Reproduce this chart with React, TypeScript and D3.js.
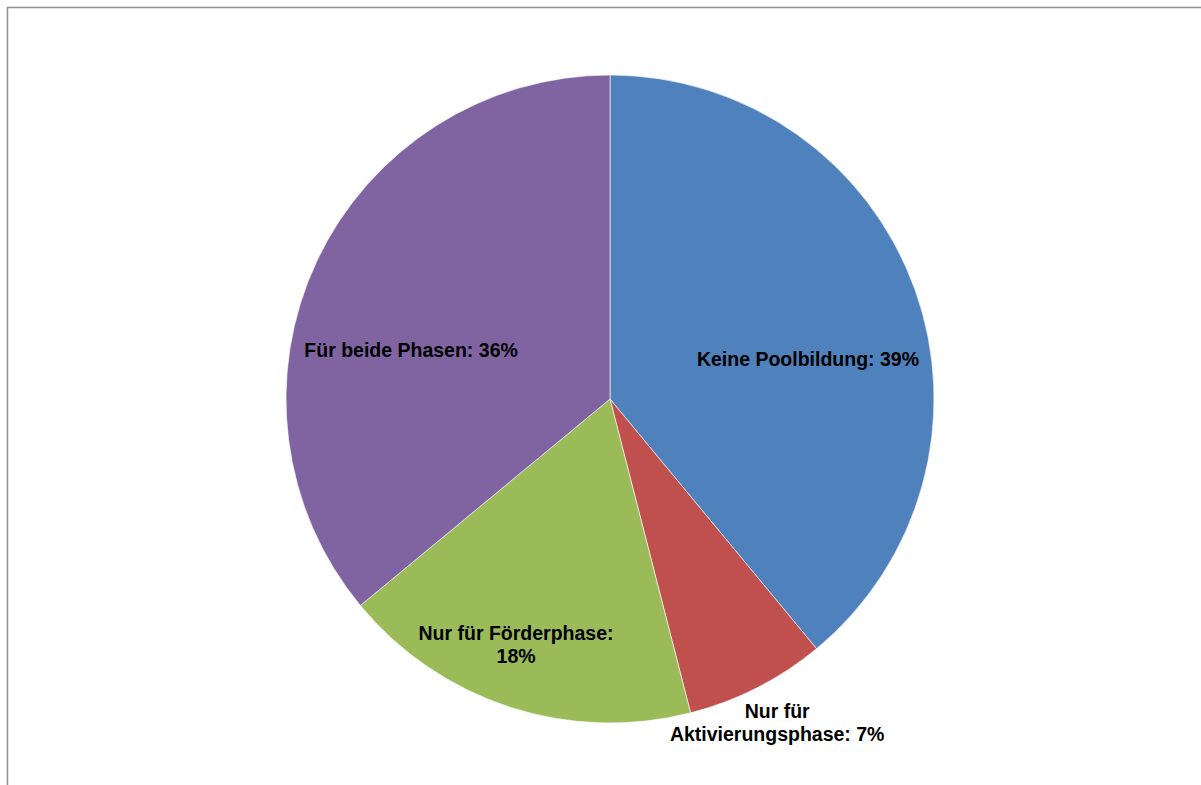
import React from "react";
import * as d3 from "d3";

const categories = ["Keine Poolbildung", "Nur für Aktivierungsphase", "Nur für Förderphase", "Für beide Phasen"];
const values = [39, 7, 18, 36];
const colors = ["#4F81BD", "#C0504D", "#9BBB59", "#8064A2"];
const labelLines = [
  ["Keine Poolbildung: 39%"],
  ["Nur für", "Aktivierungsphase: 7%"],
  ["Nur für Förderphase:", "18%"],
  ["Für beide Phasen: 36%"],
];

const W = 1201;
const H = 785;
const cx = 610;
const cy = 399;
const R = 324;

export default function App() {
  const pie = d3.pie<number>().sort(null).value((d) => d)(values);
  const arc = d3.arc<d3.PieArcDatum<number>>().innerRadius(0).outerRadius(R);
  // label block centres relative to the pie centre, as fractions of radius
  const labelOffsets: [number, number][] = [
    [0.611, -0.123],
    [0.516, 1.0],
    [-0.29, 0.759],
    [-0.614, -0.151],
  ];
  const lineH = 23;
  return (
    <svg
      width={W}
      height={H}
      style={{ position: "absolute", left: 0, top: 0, display: "block", background: "#fff" }}
      fontFamily="'Liberation Sans', Arial, sans-serif"
    >
      <rect x={0} y={0} width={W} height={H} fill="#fff" />
      <path d={`M7.5,${H} L7.5,7.5 L${W},7.5`} fill="none" stroke="#909090" strokeWidth={1.5} />
      <g transform={`translate(${cx},${cy})`}>
        {pie.map((p, i) => (
          <path key={categories[i]} d={arc(p) || ""} fill={colors[i]} stroke="#fff" strokeWidth={0.6} />
        ))}
        {pie.map((p, i) => {
          const x = labelOffsets[i][0] * R;
          const y = labelOffsets[i][1] * R;
          const lines = labelLines[i];
          const y0 = y - ((lines.length - 1) * lineH) / 2;
          return (
            <text key={"l" + i} textAnchor="middle" fontSize={19.5} fontWeight="bold" fill="#000">
              {lines.map((ln, j) => (
                <tspan key={j} x={x} y={y0 + j * lineH} dy="0.35em">
                  {ln}
                </tspan>
              ))}
            </text>
          );
        })}
      </g>
    </svg>
  );
}
